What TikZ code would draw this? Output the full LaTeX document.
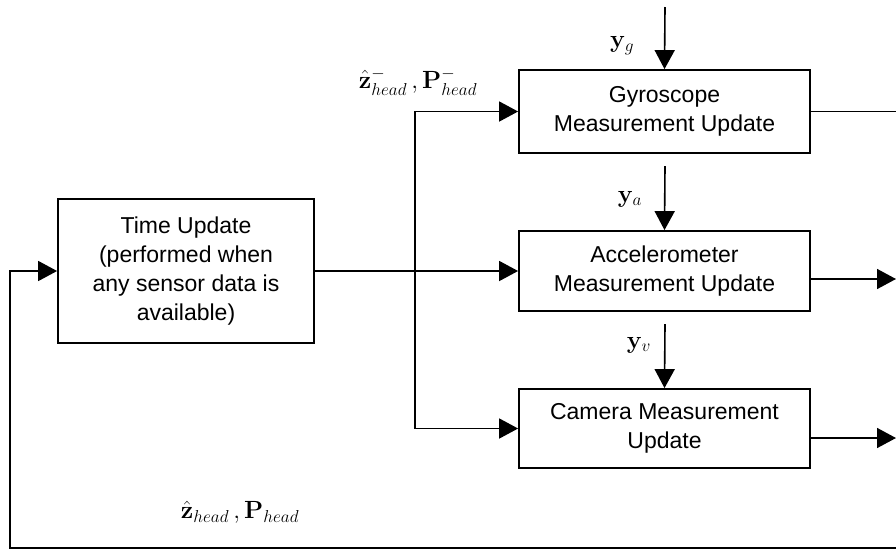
\documentclass[tikz,border=0pt]{standalone}
\usepackage{amsmath}
\usepackage[no-math]{fontspec}
\setmainfont{Liberation Sans}
\usetikzlibrary{arrows.meta}

\begin{document}
\begin{tikzpicture}[x=1pt,y=-1pt,line width=1.6pt,
		blk/.style={draw, line width=1.8pt, align=center, inner sep=0pt, font=\fontsize{23}{29}\selectfont},
		arr/.style={-{Triangle[length=19pt,width=20pt]}},
		sig/.style={font=\fontsize{27}{30}\selectfont, inner sep=0pt}]
		\useasboundingbox (0,0) rectangle (896,550);
		\node[blk, minimum width=291pt, minimum height=83pt] (gyro) at (664.5,111.5) {Gyroscope\\Measurement Update};
		\node[blk, minimum width=291pt, minimum height=80pt] (accel) at (664.5,271) {Accelerometer\\Measurement Update};
		\node[blk, minimum width=291pt, minimum height=79pt] (camera) at (664.5,428.5) {Camera Measurement\\Update};
		\node[blk, minimum width=256pt, minimum height=144pt] (timeupd) at (186,271) {Time Update\\(performed when\\any sensor data is\\available)};
		\coordinate (split) at (415,271);
		\coordinate (ygin) at (665,7);
		\coordinate (yain) at (665,166);
		\coordinate (yvin) at (665,324);
		\coordinate (accout) at (896,279);
		\coordinate (camout) at (896,438);
		\coordinate (fbr) at (897,548);
		\coordinate (fbl) at (10,548);
		\draw[arr] (timeupd.east) -- (accel.west);
		\draw[arr] (split) |- (gyro.west);
		\draw[arr] (split) |- (camera.west);
		\draw[arr] (ygin) -- (gyro.north);
		\draw[arr] (yain) -- (accel.north);
		\draw[arr] (yvin) -- (camera.north);
		\draw[arr] ([yshift=-8pt]accel.east) -- (accout);
		\draw[arr] ([yshift=-9.5pt]camera.east) -- (camout);
		\draw[arr] (gyro.east) -| (fbr) -- (fbl) |- (timeupd.west);
		\node[sig] (lblg) at (622,46) {$\mathbf{y}_{g}$};
		\node[sig] (lbla) at (630,199) {$\mathbf{y}_{a}$};
		\node[sig] (lblv) at (639,345) {$\mathbf{y}_{v}$};
		\node[sig] (lblprior) at (418,82) {$\hat{\mathbf{z}}^{-}_{head}\,, \mathbf{P}^{-}_{head}$};
		\node[sig] (lblpost) at (240,512) {$\hat{\mathbf{z}}_{head}\,, \mathbf{P}_{head}$};
	\end{tikzpicture}
\end{document}
